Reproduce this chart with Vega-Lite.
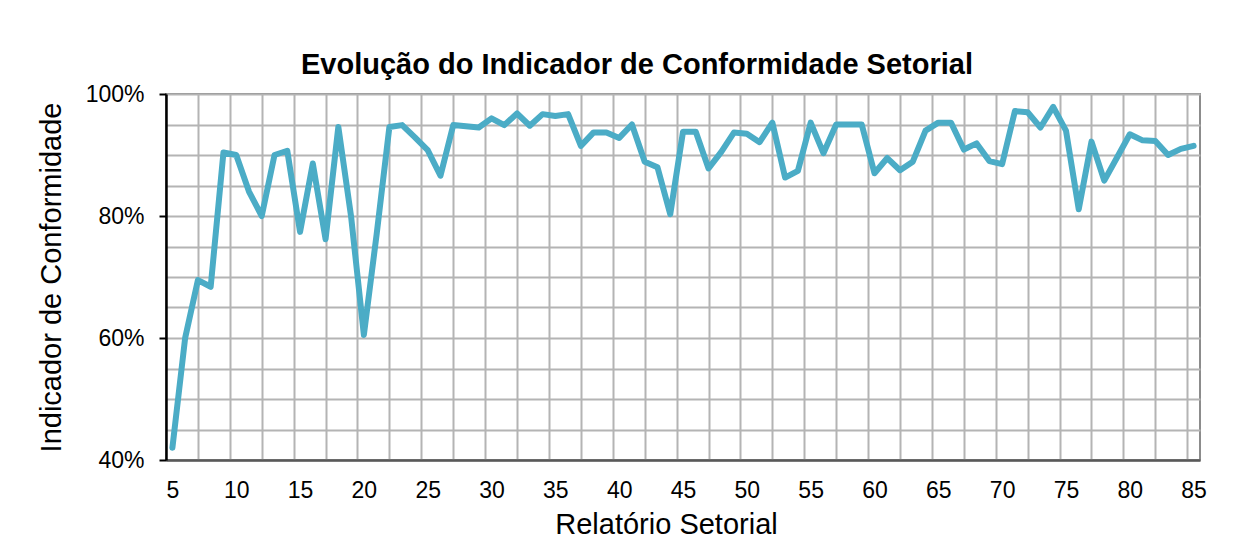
{
  "$schema": "https://vega.github.io/schema/vega-lite/v6.json",
  "autosize": {"type": "none"},
  "padding": {"left": 166, "top": 94, "right": 42, "bottom": 90},
  "width": 1034,
  "height": 366,
  "background": "white",
  "config": {
    "font": "Liberation Sans",
    "view": {"stroke": "#8c8c8c", "strokeWidth": 2}
  },
  "title": {
    "text": "Evolução do Indicador de Conformidade Setorial",
    "font": "Liberation Sans",
    "fontSize": 29,
    "fontWeight": "bold",
    "color": "#000000",
    "anchor": "middle",
    "dx": -46,
    "dy": 41,
    "baseline": "alphabetic",
    "offset": 21
  },
  "data": {
    "values": [
      {"n": 5, "v": 0.420}, {"n": 6, "v": 0.600}, {"n": 7, "v": 0.695}, {"n": 8, "v": 0.684},
      {"n": 9, "v": 0.904}, {"n": 10, "v": 0.900}, {"n": 11, "v": 0.840}, {"n": 12, "v": 0.800},
      {"n": 13, "v": 0.900}, {"n": 14, "v": 0.907}, {"n": 15, "v": 0.774}, {"n": 16, "v": 0.886},
      {"n": 17, "v": 0.762}, {"n": 18, "v": 0.946}, {"n": 19, "v": 0.799}, {"n": 20, "v": 0.605},
      {"n": 21, "v": 0.770}, {"n": 22, "v": 0.946}, {"n": 23, "v": 0.949}, {"n": 24, "v": 0.929},
      {"n": 25, "v": 0.908}, {"n": 26, "v": 0.866}, {"n": 27, "v": 0.949}, {"n": 28, "v": 0.947},
      {"n": 29, "v": 0.945}, {"n": 30, "v": 0.960}, {"n": 31, "v": 0.949}, {"n": 32, "v": 0.968},
      {"n": 33, "v": 0.948}, {"n": 34, "v": 0.967}, {"n": 35, "v": 0.964}, {"n": 36, "v": 0.967},
      {"n": 37, "v": 0.915}, {"n": 38, "v": 0.937}, {"n": 39, "v": 0.937}, {"n": 40, "v": 0.928},
      {"n": 41, "v": 0.950}, {"n": 42, "v": 0.889}, {"n": 43, "v": 0.880}, {"n": 44, "v": 0.803},
      {"n": 45, "v": 0.938}, {"n": 46, "v": 0.938}, {"n": 47, "v": 0.878}, {"n": 48, "v": 0.905},
      {"n": 49, "v": 0.937}, {"n": 50, "v": 0.935}, {"n": 51, "v": 0.921}, {"n": 52, "v": 0.953},
      {"n": 53, "v": 0.863}, {"n": 54, "v": 0.874}, {"n": 55, "v": 0.953}, {"n": 56, "v": 0.903},
      {"n": 57, "v": 0.950}, {"n": 58, "v": 0.950}, {"n": 59, "v": 0.950}, {"n": 60, "v": 0.870},
      {"n": 61, "v": 0.895}, {"n": 62, "v": 0.875}, {"n": 63, "v": 0.889}, {"n": 64, "v": 0.940},
      {"n": 65, "v": 0.953}, {"n": 66, "v": 0.953}, {"n": 67, "v": 0.909}, {"n": 68, "v": 0.919},
      {"n": 69, "v": 0.890}, {"n": 70, "v": 0.885}, {"n": 71, "v": 0.972}, {"n": 72, "v": 0.970},
      {"n": 73, "v": 0.945}, {"n": 74, "v": 0.979}, {"n": 75, "v": 0.940}, {"n": 76, "v": 0.811},
      {"n": 77, "v": 0.922}, {"n": 78, "v": 0.858}, {"n": 79, "v": 0.896}, {"n": 80, "v": 0.934},
      {"n": 81, "v": 0.924}, {"n": 82, "v": 0.923}, {"n": 83, "v": 0.900}, {"n": 84, "v": 0.910},
      {"n": 85, "v": 0.915}
    ]
  },
  "mark": {
    "type": "line",
    "color": "#4BACC6",
    "strokeWidth": 6,
    "strokeJoin": "round",
    "strokeCap": "round",
    "clip": true
  },
  "encoding": {
    "x": {
      "field": "n",
      "type": "quantitative",
      "scale": {"domain": [4.5, 85.5], "nice": false, "zero": false},
      "axis": {
        "title": "Relatório Setorial",
        "titleFont": "Liberation Sans",
        "titleFontSize": 29,
        "titleFontWeight": "normal",
        "titleColor": "#000000",
        "titlePadding": 8,
        "titleX": 500,
        "values": [5, 7, 9.5, 10, 12, 14.5, 15, 17, 19.5, 20, 22, 24.5, 25, 27, 29.5, 30, 32, 34.5, 35, 37, 39.5, 40, 42, 44.5, 45, 47, 49.5, 50, 52, 54.5, 55, 57, 59.5, 60, 62, 64.5, 65, 67, 69.5, 70, 72, 74.5, 75, 77, 79.5, 80, 82, 84.5, 85],
        "labelExpr": "datum.value % 5 == 0 ? datum.label : ''",
        "labelFont": "Liberation Sans",
        "labelFontSize": 23,
        "labelColor": "#000000",
        "labelPadding": 19,
        "labelOverlap": false,
        "labelFlush": false,
        "labelBound": false,
        "ticks": false,
        "domain": true,
        "domainColor": "#595959",
        "domainWidth": 2.5,
        "grid": true,
        "gridColor": "#b4b4b4",
        "gridWidth": 2,
        "gridOpacity": {"condition": {"test": "datum.value % 5 != 0", "value": 1}, "value": 0}
      }
    },
    "y": {
      "field": "v",
      "type": "quantitative",
      "scale": {"domain": [0.4, 1.0], "nice": false, "zero": false},
      "axis": {
        "title": "Indicador de Conformidade",
        "titleFont": "Liberation Sans",
        "titleFontSize": 29,
        "titleFontWeight": "normal",
        "titleColor": "#000000",
        "titlePadding": 19,
        "values": [0.4, 0.45, 0.5, 0.55, 0.6, 0.65, 0.7, 0.75, 0.8, 0.85, 0.9, 0.95, 1.0],
        "labelExpr": "abs(datum.value * 5 - round(datum.value * 5)) < 0.001 ? format(datum.value, '.0%') : ''",
        "labelFont": "Liberation Sans",
        "labelFontSize": 23,
        "labelColor": "#000000",
        "labelPadding": 15,
        "labelOverlap": false,
        "labelFlush": false,
        "labelBound": false,
        "ticks": true,
        "tickSize": 7,
        "tickWidth": 2,
        "tickColor": "#000000",
        "tickOpacity": {"condition": {"test": "abs(datum.value * 5 - round(datum.value * 5)) < 0.001", "value": 1}, "value": 0},
        "domain": true,
        "domainColor": "#000000",
        "domainWidth": 2.5,
        "grid": true,
        "gridColor": "#b4b4b4",
        "gridWidth": 2
      }
    }
  }
}
